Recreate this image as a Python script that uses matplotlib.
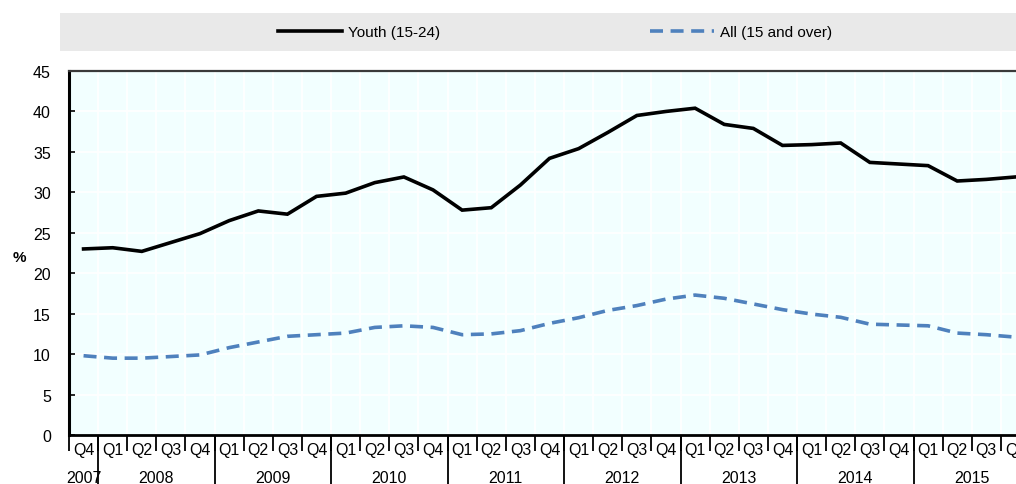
import numpy as np
import matplotlib
matplotlib.use("Agg")
import matplotlib.pyplot as plt
from matplotlib.patches import Rectangle
from matplotlib.transforms import blended_transform_factory

plt.rcParams['font.family'] = ['Liberation Sans Narrow', 'Liberation Sans', 'DejaVu Sans']

# quarters from 2007 Q4 to 2015 Q4
quarters = ['Q4'] + ['Q1', 'Q2', 'Q3', 'Q4'] * 8
years = ['2007'] + [str(y) for y in range(2008, 2016) for _ in range(4)]

youth = [23.0, 23.15, 22.7, 23.8, 24.9, 26.5, 27.7, 27.3, 29.5, 29.9, 31.2, 31.9,
         30.3, 27.8, 28.1, 30.9, 34.2, 35.4, 37.4, 39.5, 40.0, 40.4, 38.4, 37.9,
         35.8, 35.9, 36.1, 33.7, 33.5, 33.3, 31.4, 31.6, 31.9]
all_ages = [9.8, 9.5, 9.5, 9.7, 9.9, 10.8, 11.5, 12.2, 12.4, 12.6, 13.3, 13.5,
            13.3, 12.4, 12.5, 12.9, 13.8, 14.5, 15.4, 16.0, 16.8, 17.3, 16.9, 16.2,
            15.5, 14.95, 14.55, 13.7, 13.6, 13.5, 12.6, 12.4, 12.1]

W, H = 1016, 485
fig = plt.figure(figsize=(W / 100, H / 100), dpi=100)
ax = fig.add_axes([69 / W, (H - 436) / H, (1030 - 69) / W, (436 - 72) / H])
ax.set_facecolor('#F2FFFF')

x = np.arange(len(quarters))
l1, = ax.plot(x, youth, color='black', lw=2.6, solid_joinstyle='miter', zorder=3)
l2, = ax.plot(x, all_ages, color='#4F81BD', lw=2.6, ls=(0, (3.6, 2.1)), zorder=3)

ax.set_xlim(-0.5, len(quarters) - 0.5)
ax.set_ylim(0, 45)
ax.set_yticks(np.arange(0, 46, 5))
ax.tick_params(axis='y', direction='in', length=4, width=1.2, labelsize=11.5, pad=13)
ax.set_ylabel('%', rotation=0, fontsize=11, fontweight='bold', va='center')
ax.yaxis.set_label_coords(-0.052, 0.49)

# quarter labels at the category centres, separators at the boundaries
ax.set_xticks(x)
ax.set_xticklabels(quarters, fontsize=11.5)
ax.tick_params(axis='x', which='major', length=0, pad=5)
ax.set_xticks(np.arange(-0.5, len(quarters), 1), minor=True)
ax.tick_params(axis='x', which='minor', direction='out', length=11.5, width=1.3, color='black')

ax.grid(True, which='major', axis='y', color='white', lw=1.3)
ax.grid(True, which='minor', axis='x', color='white', lw=1.3)
ax.set_axisbelow(True)

ax.spines['right'].set_visible(False)
ax.spines['left'].set_linewidth(2.2)
ax.spines['bottom'].set_linewidth(2.0)
ax.spines['top'].set_linewidth(1.6)
ax.spines['top'].set_color('#3a3a3a')

# year level: separators and labels
year_names = []
for y in years:
    if y not in year_names:
        year_names.append(y)
trans = blended_transform_factory(ax.transData, ax.transAxes)
for yn in year_names:
    idx = [i for i, y in enumerate(years) if y == yn]
    ax.text((idx[0] + idx[-1]) / 2, -0.116, yn, transform=trans, ha='center', va='center',
            fontsize=11.5, clip_on=False)
bounds = [i - 0.5 for i in range(1, len(years)) if years[i] != years[i - 1]]
ax.vlines(bounds, 0, -0.15, transform=trans, color='black', lw=1.3, clip_on=False)

# legend band
fig.patches.append(Rectangle((60 / W, (H - 52) / H), (W - 60) / W, 38 / H,
                             transform=fig.transFigure, facecolor='#E9E9E9',
                             edgecolor='none', zorder=0))
fig.legend([l1, l2], ['Youth (15-24)', 'All (15 and over)'], loc='center',
           bbox_to_anchor=(555 / W, (H - 33) / H), ncol=2, frameon=False,
           fontsize=11, handlelength=4.2, handletextpad=0.4, columnspacing=13.7)

fig.savefig('out.png', dpi=100)
